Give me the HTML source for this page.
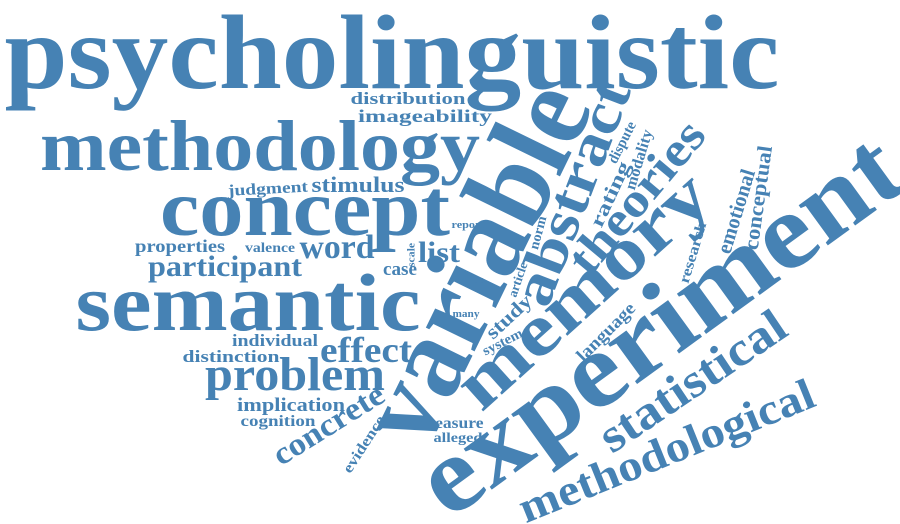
<!DOCTYPE html>
<html><head><meta charset="utf-8"><style>
html,body{margin:0;padding:0;background:#fff;overflow:hidden;width:900px;height:524px;}
svg{display:block;}
text{font-family:"Liberation Serif",serif;font-weight:bold;fill:#4682b4;text-anchor:middle;}
</style></head><body>
<svg width="900" height="524" viewBox="0 0 900 524">
<g id="words"></g>
</svg>
<script>
// word, centerX, y (baseline if horizontal, x-height center if rotated), fontSize, rotationDeg, textLength
const words=[
["psycholinguistic",392,88,106,0,775],
["methodology",260,170,72,0,440],
["concept",305,235,80,0,290],
["semantic",248,330,82,0,345],
["variable",485,268,118,-64,385],
["abstract",577,195,58,-69,235],
["memory",587,295,74,-42,315],
["experiment",665,333,108,-36,570],
["theories",640,200,48,-50,185],
["statistical",695,385,48,-34,215],
["methodological",668,455,44,-22,315],
["problem",295,390,48,0,180],
["effect",366,362,36,0,92],
["participant",225,276,30,0,154],
["word",337,258,34,0,75],
["list",439,262,30,0,42],
["case",400,275,19,0,34],
["properties",180,252,18,0,90],
["valence",270,252,14,0,50],
["judgment",268,190,16,-3,80],
["stimulus",358,192,22,0,93],
["distribution",408,104,17,0,115],
["imageability",425,122,18,0,134],
["individual",275,346,17,0,86],
["distinction",231,362,17,0,97],
["implication",291,411,19,0,108],
["cognition",278,426,16,0,75],
["concrete",330,427,32,-32,125],
["evidence",365,445,15,-57,65],
["measure",452,428,16,0,63],
["alleged",458,442,14,0,49],
["report",468,228,11,0,33],
["scale",412,255,11,-90,24],
["value",471,283,10,0,26],
["many",466,317,10,0,27],
["norm",539,233,14,-75,34],
["article",519,280,13,-71,36],
["study",510,318,20,-43,55],
["system",503,343,14,-27,43],
["rating",612,195,20,-65,70],
["dispute",623,143,15,-63,45],
["modality",640,160,16,-73,62],
["research",694,253,15,-73,63],
["language",607,333,18,-45,75],
["emotional",738,212,21,-73,87],
["conceptual",760,198,21,-82,105]
];
const g=document.getElementById('words');
words.forEach(w=>{
  const t=document.createElementNS('http://www.w3.org/2000/svg','text');
  
  
  t.setAttribute('x',0);t.setAttribute('y',0);
  if(w[4]!==0){t.setAttribute('dy','0.23em');}
  t.setAttribute('font-size',w[3]);
  t.setAttribute('textLength',w[5]);
  t.setAttribute('lengthAdjust','spacingAndGlyphs');
  t.setAttribute('transform','translate('+w[1]+','+w[2]+') rotate('+w[4]+')');
  t.textContent=w[0];
  g.appendChild(t);
});
</script>
</body></html>
